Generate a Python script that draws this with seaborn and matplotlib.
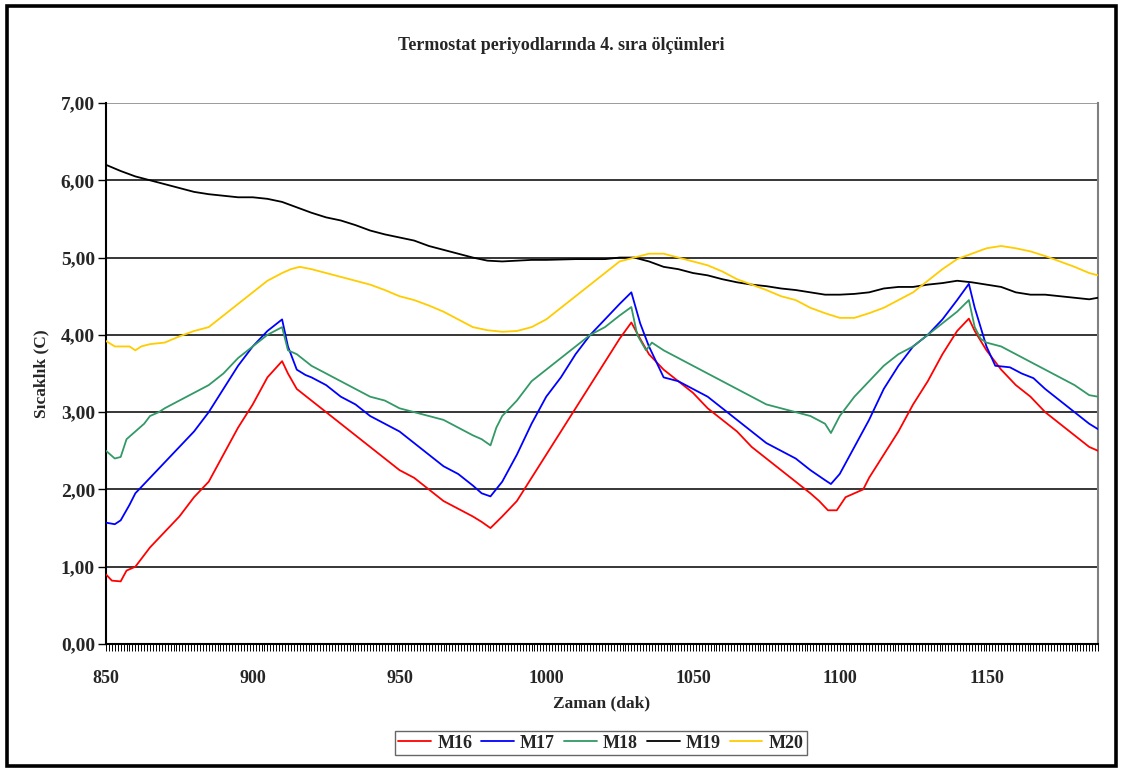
import matplotlib
matplotlib.use("Agg")
import matplotlib.pyplot as plt
from matplotlib.patches import Rectangle
from matplotlib.ticker import MultipleLocator, FixedLocator
import seaborn as sns
import pandas as pd

# Measured temperatures (°C) over time (minutes) for each sensor
t16 = [850, 852, 855, 857, 860, 865, 870, 875, 880, 885, 890, 895, 900, 905, 910,
       912, 915, 920, 925, 930, 935, 940, 945, 950, 955, 960, 965, 970, 975, 978, 981,
       985, 990, 995, 1000, 1005, 1010, 1015, 1020, 1025, 1029,
       1032, 1035, 1040, 1045, 1050, 1055, 1060, 1065, 1070, 1075, 1080, 1085, 1090, 1093, 1096, 1099,
       1102, 1105, 1108, 1110, 1115, 1120, 1125, 1130, 1135, 1140, 1144,
       1146, 1150, 1155, 1160, 1165, 1170, 1175, 1180, 1185, 1188]
m16 = [0.90, 0.82, 0.81, 0.95, 1.00, 1.25, 1.45, 1.65, 1.90, 2.10, 2.45, 2.80, 3.10, 3.45, 3.66,
       3.50, 3.30, 3.15, 3.00, 2.85, 2.70, 2.55, 2.40, 2.25, 2.15, 2.00, 1.85, 1.75, 1.65, 1.58, 1.50,
       1.65, 1.85, 2.15, 2.45, 2.75, 3.05, 3.35, 3.65, 3.95, 4.16,
       3.95, 3.75, 3.55, 3.40, 3.25, 3.05, 2.90, 2.75, 2.55, 2.40, 2.25, 2.10, 1.95, 1.85, 1.73, 1.73,
       1.90, 1.95, 2.00, 2.15, 2.45, 2.75, 3.10, 3.40, 3.75, 4.05, 4.21,
       4.05, 3.80, 3.55, 3.35, 3.20, 3.00, 2.85, 2.70, 2.55, 2.50]

t17 = [850, 853, 855, 858, 860, 865, 870, 875, 880, 885, 890, 895, 900, 905, 910,
       912, 915, 918, 920, 925, 930, 935, 940, 945, 950, 955, 960, 965, 970, 975, 978, 981,
       985, 990, 995, 1000, 1005, 1010, 1015, 1020, 1025, 1029,
       1032, 1035, 1040, 1045, 1050, 1055, 1060, 1065, 1070, 1075, 1080, 1085, 1090, 1095, 1097,
       1100, 1105, 1110, 1115, 1120, 1125, 1130, 1135, 1140, 1144,
       1146, 1150, 1153, 1158, 1162, 1166, 1170, 1175, 1180, 1185, 1188]
m17 = [1.57, 1.55, 1.60, 1.80, 1.95, 2.15, 2.35, 2.55, 2.75, 3.00, 3.30, 3.60, 3.85, 4.05, 4.20,
       3.85, 3.55, 3.48, 3.45, 3.35, 3.20, 3.10, 2.95, 2.85, 2.75, 2.60, 2.45, 2.30, 2.20, 2.05, 1.95, 1.91,
       2.10, 2.45, 2.85, 3.20, 3.45, 3.75, 4.00, 4.20, 4.40, 4.55,
       4.15, 3.85, 3.45, 3.40, 3.30, 3.20, 3.05, 2.90, 2.75, 2.60, 2.50, 2.40, 2.25, 2.12, 2.07,
       2.20, 2.55, 2.90, 3.30, 3.60, 3.85, 4.00, 4.20, 4.45, 4.66,
       4.35, 3.85, 3.60, 3.58, 3.50, 3.44, 3.30, 3.15, 3.00, 2.85, 2.78]

t18 = [850, 853, 855, 857, 860, 863, 865, 868, 870, 875, 880, 885, 890, 895, 900, 905, 910,
       912, 915, 920, 925, 930, 935, 940, 945, 950, 955, 960, 965, 970, 975, 978, 981,
       983, 985, 990, 995, 1000, 1005, 1010, 1015, 1020, 1025, 1029,
       1031, 1034, 1036, 1040, 1045, 1050, 1055, 1060, 1065, 1070, 1075, 1080, 1085, 1090, 1095, 1097,
       1100, 1103, 1105, 1110, 1115, 1120, 1125, 1130, 1135, 1140, 1144,
       1146, 1148, 1150, 1155, 1160, 1165, 1170, 1175, 1180, 1185, 1188]
m18 = [2.50, 2.40, 2.42, 2.65, 2.75, 2.85, 2.95, 3.00, 3.05, 3.15, 3.25, 3.35, 3.50, 3.70, 3.85, 4.00, 4.10,
       3.80, 3.75, 3.60, 3.50, 3.40, 3.30, 3.20, 3.15, 3.05, 3.00, 2.95, 2.90, 2.80, 2.70, 2.65, 2.57,
       2.80, 2.95, 3.15, 3.40, 3.55, 3.70, 3.85, 4.00, 4.10, 4.25, 4.36,
       4.00, 3.80, 3.90, 3.80, 3.70, 3.60, 3.50, 3.40, 3.30, 3.20, 3.10, 3.05, 3.00, 2.95, 2.85, 2.73,
       2.95, 3.10, 3.20, 3.40, 3.60, 3.75, 3.85, 4.00, 4.15, 4.30, 4.45,
       4.10, 3.95, 3.90, 3.85, 3.75, 3.65, 3.55, 3.45, 3.35, 3.22, 3.20]

t19 = [850, 855, 860, 865, 870, 875, 880, 885, 890, 895, 900, 905, 910, 915, 920, 925, 930,
       935, 940, 945, 950, 955, 960, 965, 970, 975, 980, 985, 990, 995, 1000, 1010, 1020,
       1025, 1030, 1035, 1040, 1045, 1050, 1055, 1060, 1065, 1070, 1075, 1080, 1085, 1090,
       1095, 1100, 1105, 1110, 1115, 1120, 1125, 1130, 1135, 1140, 1145, 1150, 1155, 1160,
       1165, 1170, 1175, 1180, 1185, 1188]
m19 = [6.20, 6.12, 6.05, 6.00, 5.95, 5.90, 5.85, 5.82, 5.80, 5.78, 5.78, 5.76, 5.72, 5.65, 5.58, 5.52, 5.48,
       5.42, 5.35, 5.30, 5.26, 5.22, 5.15, 5.10, 5.05, 5.00, 4.96, 4.95, 4.96, 4.97, 4.97, 4.98, 4.98,
       5.00, 5.00, 4.95, 4.88, 4.85, 4.80, 4.77, 4.72, 4.68, 4.65, 4.63, 4.60, 4.58, 4.55,
       4.52, 4.52, 4.53, 4.55, 4.60, 4.62, 4.62, 4.65, 4.67, 4.70, 4.68, 4.65, 4.62, 4.55,
       4.52, 4.52, 4.50, 4.48, 4.46, 4.48]

t20 = [850, 853, 856, 858, 860, 862, 865, 870, 875, 880, 885, 890, 895, 900, 905, 910, 913,
       916, 920, 925, 930, 935, 940, 945, 950, 955, 960, 965, 970, 975, 980, 985, 990, 995,
       1000, 1005, 1010, 1015, 1020, 1025, 1030, 1035, 1040, 1045, 1050, 1055, 1060, 1065,
       1070, 1075, 1080, 1085, 1090, 1095, 1100, 1105, 1110, 1115, 1120, 1125, 1130, 1135,
       1140, 1145, 1150, 1155, 1160, 1165, 1170, 1175, 1180, 1185, 1188]
m20 = [3.92, 3.85, 3.85, 3.85, 3.80, 3.85, 3.88, 3.90, 3.98, 4.05, 4.10, 4.25, 4.40, 4.55, 4.70, 4.80, 4.85,
       4.88, 4.85, 4.80, 4.75, 4.70, 4.65, 4.58, 4.50, 4.45, 4.38, 4.30, 4.20, 4.10, 4.06, 4.04, 4.05, 4.10,
       4.20, 4.35, 4.50, 4.65, 4.80, 4.95, 5.00, 5.05, 5.05, 5.00, 4.95, 4.90, 4.82, 4.72,
       4.65, 4.58, 4.50, 4.45, 4.35, 4.28, 4.22, 4.22, 4.28, 4.35, 4.45, 4.55, 4.70, 4.85,
       4.98, 5.05, 5.12, 5.15, 5.12, 5.08, 5.02, 4.95, 4.88, 4.80, 4.77]

series_names = ["M16", "M17", "M18", "M19", "M20"]
series_colors = ["#FF0000", "#0000FF", "#339966", "#000000", "#FFCC00"]

frames = []
for name, t, v in zip(series_names, [t16, t17, t18, t19, t20], [m16, m17, m18, m19, m20]):
    frames.append(pd.DataFrame({"Zaman": t, "Sicaklik": v, "Seri": name}))
data = pd.concat(frames, ignore_index=True)

sns.set_style("white")
plt.rcParams["font.family"] = ["Liberation Serif", "DejaVu Serif"]
plt.rcParams["font.weight"] = "bold"

fig = plt.figure(figsize=(11.23, 7.72), dpi=100)
ax = fig.add_axes([106 / 1123, 1 - 644 / 772, (1098 - 106) / 1123, (644 - 103) / 772])

# horizontal gridlines
for yv in range(1, 8):
    ax.axhline(yv, color="#000000" if yv < 7 else "#808080", lw=1.1, zorder=1)

sns.lineplot(data=data, x="Zaman", y="Sicaklik", hue="Seri", hue_order=series_names,
             palette=series_colors, linewidth=1.3, ax=ax, legend=False, zorder=3,
             estimator=None, sort=False)

ax.set_xlim(850, 1188)
ax.set_ylim(0, 7)
ax.yaxis.set_major_locator(MultipleLocator(1))
ax.set_yticklabels([f"{v:.2f}".replace(".", ",") for v in ax.get_yticks()])
ax.xaxis.set_major_locator(FixedLocator([850, 900, 950, 1000, 1050, 1100, 1150]))
ax.xaxis.set_minor_locator(MultipleLocator(1))
ax.tick_params(axis="x", which="both", bottom=True, top=False)
ax.tick_params(axis="y", which="both", left=True, right=False)
ax.tick_params(axis="x", which="major", length=5, width=0.7, color="#000000",
               labelsize=13, pad=14)
ax.tick_params(axis="x", which="minor", length=5, width=0.7, color="#000000", direction="out")
ax.tick_params(axis="y", which="major", length=6, width=1, color="#000000", labelsize=14, pad=2)
for lab in ax.get_xticklabels() + ax.get_yticklabels():
    lab.set_fontweight("bold")

for side in ["left", "bottom"]:
    ax.spines[side].set_color("#000000")
    ax.spines[side].set_linewidth(1.5)
ax.spines["right"].set_color("#808080")
ax.spines["right"].set_linewidth(1.5)
ax.spines["top"].set_visible(False)

ax.set_xlabel("Zaman (dak)", fontsize=12.5, fontweight="bold", labelpad=6)
ax.set_ylabel("Sıcaklık (C)", fontsize=12.5, fontweight="bold", labelpad=8)

fig.text(0.5, 1 - 45 / 772, "Termostat periyodlarında 4. sıra ölçümleri",
         ha="center", va="center", fontsize=13, fontweight="bold")

handles = [plt.Line2D([], [], color=c, lw=1.3) for c in series_colors]
leg = fig.legend(handles, series_names, loc="center", bbox_to_anchor=(601 / 1123, 1 - 743 / 772),
                 ncol=5, frameon=True, fancybox=False, edgecolor="#404040",
                 prop={"weight": "bold", "size": 13, "family": "Liberation Serif"},
                 handlelength=1.8, handletextpad=0.35, columnspacing=0.5,
                 borderpad=0.2)
leg.get_frame().set_linewidth(1.0)

# outer frame of the chart
fig.patches.append(Rectangle((7 / 1123, 6 / 772), 1109 / 1123, 760 / 772,
                             transform=fig.transFigure, fill=False,
                             edgecolor="#000000", linewidth=2.6))

fig.savefig("out.png", dpi=100)
